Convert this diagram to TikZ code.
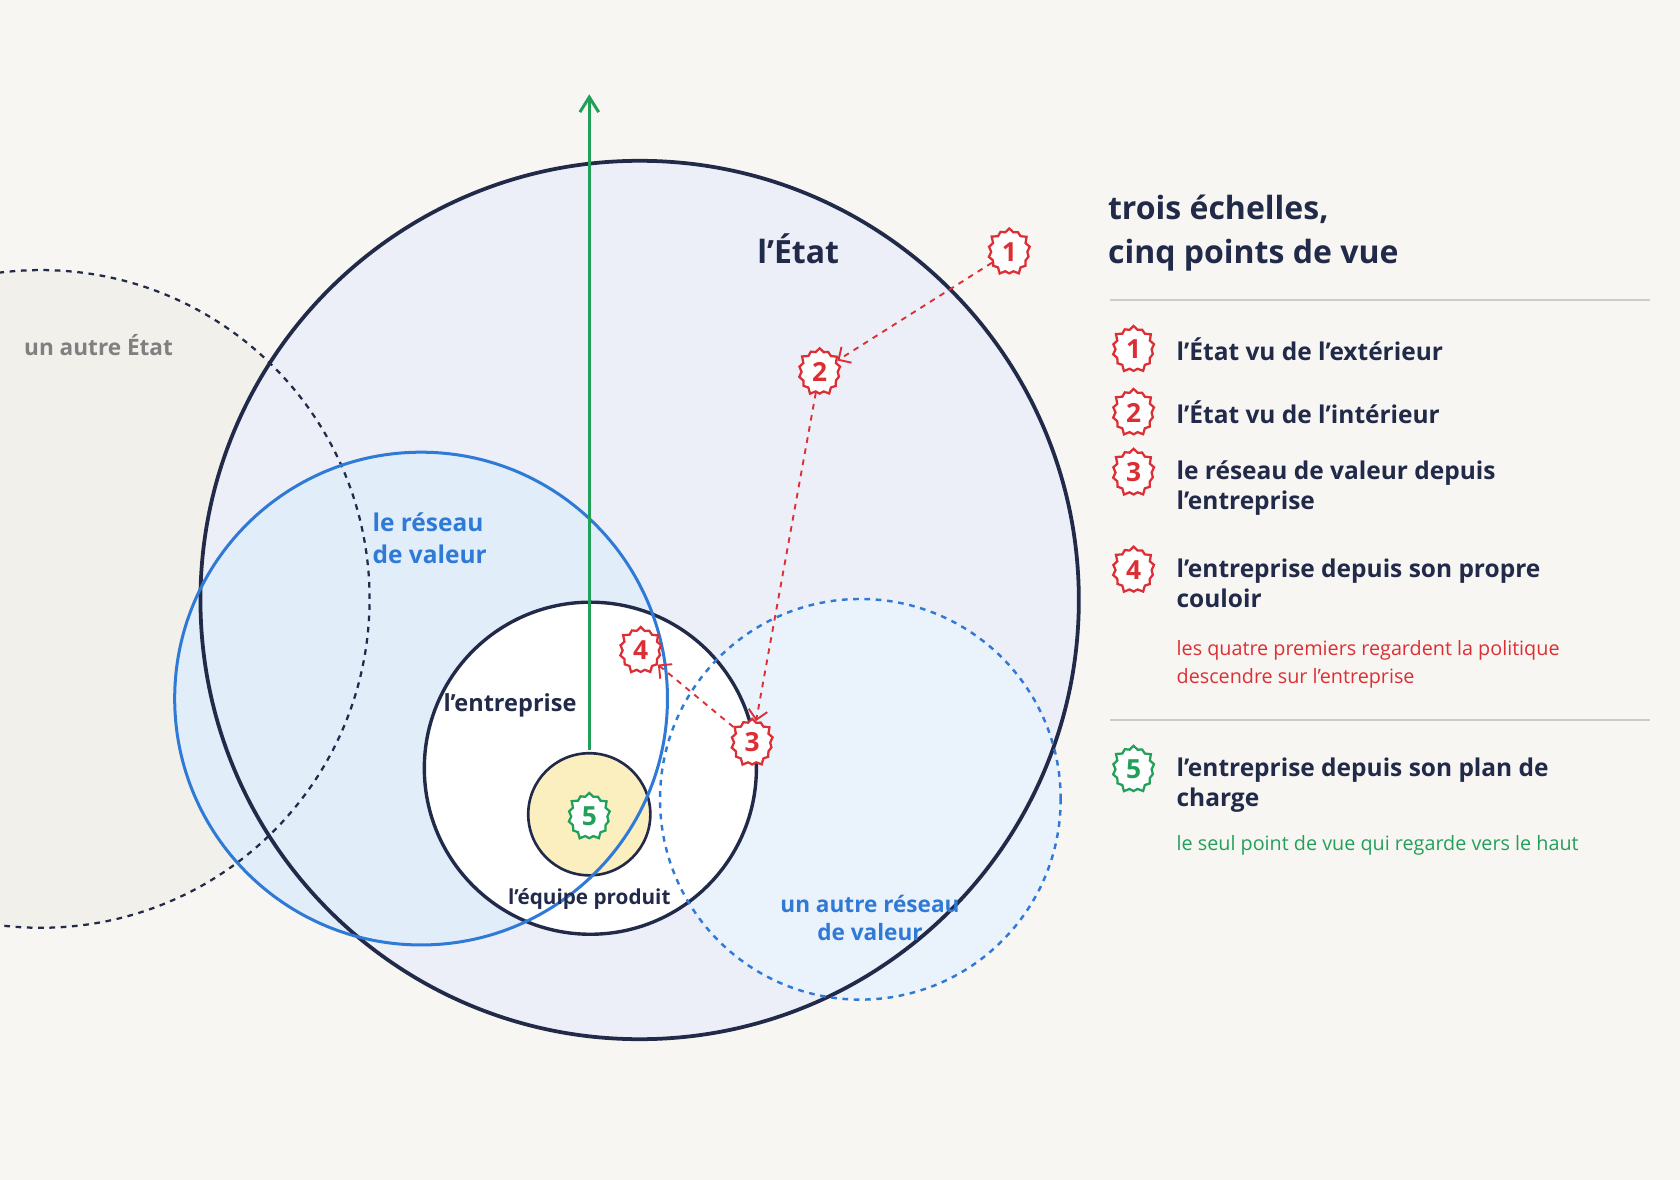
\documentclass[tikz,border=0pt]{standalone}
\usepackage{fontspec}
\setmainfont{Open Sans}
\usetikzlibrary{shapes.symbols,arrows.meta}
\definecolor{ink}{HTML}{222A4A}
\definecolor{bg}{HTML}{F8F6F2}
\definecolor{etatfill}{HTML}{ECEFF7}
\definecolor{autrefill}{HTML}{F2F0EB}
\definecolor{reseaufill}{HTML}{E2EDFA}
\definecolor{autrereseaufill}{HTML}{EAF2FB}
\definecolor{bleu}{HTML}{2F7AD6}
\definecolor{rouge}{HTML}{DC2F35}
\definecolor{vert}{HTML}{22A05A}
\definecolor{jaune}{HTML}{FBEFC0}
\tikzset{
  badge/.style={shape=starburst,starburst points=14,starburst point height=2.5pt,
    draw=#1,text=#1,fill=white,line width=1.2pt,inner sep=2.5pt,minimum size=0.85cm,
    font=\bfseries\fontsize{14}{14}\selectfont},
  lab/.style={font=\bfseries\fontsize{13}{16}\selectfont,text=ink,anchor=west,align=left},
  parcours/.style={rouge,dashed,line width=1pt,-{Straight Barb[length=5pt]}}
}
\newcommand{\legende}[4]{\node[badge=#1] (b#2) at (1058,#3) {#2};
  \node[lab,anchor=north west] (t#2) at (1092,{#3-17}) {#4};}
\begin{document}
\begin{tikzpicture}[x=0.02cm,y=-0.02cm]
\fill[bg] (0,0) rectangle (1568,1101);
\useasboundingbox (0,0) rectangle (1568,1101);
%fills
\begin{scope}
\clip (0,0) rectangle (1568,1101);
\fill[autrefill] (38,559) circle[radius=6.14cm];
\end{scope}
\fill[etatfill] (597,560) circle[radius=8.2cm];
\fill[reseaufill] (393,652) circle[radius=4.6cm];
\fill[autrereseaufill] (803,746) circle[radius=3.74cm];
\draw[ink,line width=1.8pt,fill=white] (551,717) circle[radius=3.1cm];
\draw[ink,line width=1.4pt,fill=jaune] (550,760) circle[radius=1.14cm];
%outlines
\begin{scope}
\clip (0,0) rectangle (1568,1101);
\draw[ink,dashed,line width=1.2pt] (38,559) circle[radius=6.14cm];
\end{scope}
\draw[ink,line width=2pt] (597,560) circle[radius=8.2cm];
\draw[bleu,line width=1.6pt] (393,652) circle[radius=4.6cm];
\draw[bleu,dashed,line width=1.3pt] (803,746) circle[radius=3.74cm];
%labels
\node[font=\bfseries\fontsize{17}{20}\selectfont,text=ink] (etat) at (745,232) {l'État};
\node[font=\bfseries\fontsize{12}{14}\selectfont,text=gray] (autre) at (92,322) {un autre État};
\node[font=\bfseries\fontsize{13}{17}\selectfont,text=bleu,align=left] (reseau) at (401,502) {le réseau\\de valeur};
\node[font=\bfseries\fontsize{12.5}{14}\selectfont,text=ink] (entreprise) at (476,658) {l'entreprise};
\node[font=\bfseries\fontsize{11}{13}\selectfont,text=ink] (equipe) at (550,839) {l'équipe produit};
\node[font=\bfseries\fontsize{12}{15}\selectfont,text=bleu,align=center] (autrereseau) at (812,857) {un autre réseau\\de valeur};
%arrow
\coordinate (haut) at (550,88);
\draw[vert,line width=1.6pt,-{Straight Barb[length=8pt,width=10pt]}] (550,700) -- (haut);
%badges
\node[badge=rouge] (p1) at (942,235) {1};
\node[badge=rouge] (p2) at (765,347) {2};
\node[badge=rouge] (p3) at (702,693) {3};
\node[badge=rouge] (p4) at (598,607) {4};
\node[badge=vert] (p5) at (550,762) {5};
\draw[parcours] (p1) -- (p2);
\draw[parcours] (p2) -- (p3);
\draw[parcours] (p3) -- (p4);
%legend
\node[font=\bfseries\fontsize{17}{23}\selectfont,text=ink,anchor=north west,align=left] (titre) at (1028,176) {trois échelles,\\cinq points de vue};
\draw[gray!40,line width=1pt] (1036,280) -- (1540,280);
\legende{rouge}{1}{326}{l'État vu de l'extérieur}
\legende{rouge}{2}{385}{l'État vu de l'intérieur}
\legende{rouge}{3}{441}{le réseau de valeur depuis\\l'entreprise}
\legende{rouge}{4}{532}{l'entreprise depuis son propre\\couloir}
\node[anchor=north west,font=\fontsize{10.5}{14.5}\selectfont,text=rouge,align=left] (noterouge) at (1092,592) {les quatre premiers regardent la politique\\descendre sur l'entreprise};
\draw[gray!40,line width=1pt] (1036,672) -- (1540,672);
\legende{vert}{5}{718}{l'entreprise depuis son plan de\\charge}
\node[anchor=west,font=\fontsize{10.5}{13}\selectfont,text=vert] (notevert) at (1092,789) {le seul point de vue qui regarde vers le haut};
\end{tikzpicture}
\end{document}
